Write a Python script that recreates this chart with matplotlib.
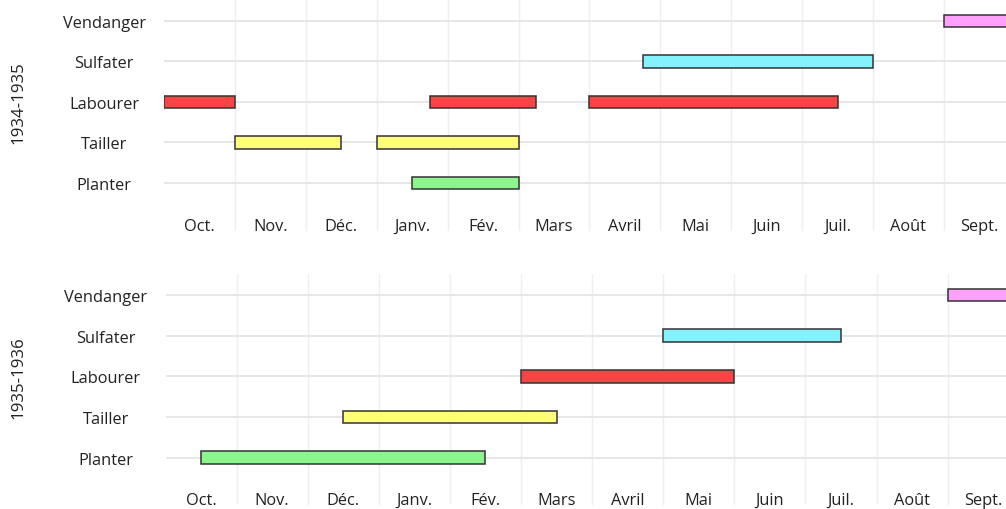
"""Calendrier des travaux de la vigne, 1934-1936."""
import matplotlib
matplotlib.use("Agg")
import matplotlib.pyplot as plt
import matplotlib.transforms as mtransforms

plt.rcParams["font.family"] = ["Open Sans", "DejaVu Sans"]

# %% Data (months counted from 1 October)
tasks = ["Planter", "Tailler", "Labourer", "Sulfater", "Vendanger"]
months = ["Oct.", "Nov.", "Déc.", "Janv.", "Fév.", "Mars",
          "Avril", "Mai", "Juin", "Juil.", "Août", "Sept."]
years = ["1934-1935", "1935-1936"]

task_1934 = ["Labourer", "Labourer", "Labourer", "Tailler", "Tailler",
             "Planter", "Sulfater", "Vendanger"]
start_1934 = [0.0, 3.75, 6.0, 1.0, 3.0, 3.5, 6.75, 11.0]
end_1934 = [1.0, 5.25, 9.5, 2.5, 5.0, 5.0, 10.0, 12.0]

task_1935 = ["Planter", "Tailler", "Labourer", "Sulfater", "Vendanger"]
start_1935 = [0.5, 2.5, 5.0, 7.0, 11.0]
end_1935 = [4.5, 5.5, 8.0, 9.5, 12.0]

colors = {
    "Planter": "#8cf58c",
    "Tailler": "#ffff78",
    "Labourer": "#f84444",
    "Sulfater": "#84f2fc",
    "Vendanger": "#ffa0fa",
}

W, H = 1006, 510
FS = 11.8
fig = plt.figure(figsize=(W / 100, H / 100), dpi=100)


def panel(rect, xmax, ylim, label_y, year, tlist, starts, ends):
    ax = fig.add_axes(rect)
    for t, s, e in zip(tlist, starts, ends):
        ax.barh(tasks.index(t), e - s, left=s, height=0.31,
                color=colors[t], edgecolor="#333333", linewidth=1.1, zorder=3)
    for i in range(len(tasks)):
        ax.axhline(i, color="#e3e3e3", linewidth=1.2, zorder=1)
    for m in range(1, len(months)):
        ax.axvline(m, color="#efefef", linewidth=1.0, zorder=0)
    for m, name in enumerate(months):
        ax.text(m + 0.5, label_y, name, ha="center", va="center", fontsize=FS,
                color="#222222")
    ax.set_xlim(0, xmax)
    ax.set_ylim(*ylim)
    ax.set_xticks([])
    ax.set_yticks(range(len(tasks)))
    ax.set_yticklabels(tasks, ha="center", fontsize=FS, color="#222222")
    ax.tick_params(axis="y", length=0, pad=43)
    for sp in ax.spines.values():
        sp.set_visible(False)
    trans = mtransforms.blended_transform_factory(fig.transFigure, ax.transData)
    ax.text(18 / W, 2, year, rotation=90, ha="center", va="center",
            fontsize=FS + 0.4, color="#222222", transform=trans)
    return ax


left1 = 164 / W
panel([left1, 1 - 232 / H, 1 - left1, 232 / H], (1006 - 164) / 70.9,
      (-1.19, 4.54), -1.07, years[0], task_1934, start_1934, end_1934)
left2 = 165.5 / W
panel([left2, 1 - 506 / H, 1 - left2, (506 - 275) / H], (1006 - 165.5) / 71.1,
      (-1.17, 4.52), -1.04, years[1], task_1935, start_1935, end_1935)

fig.savefig("out.png", dpi=100)
